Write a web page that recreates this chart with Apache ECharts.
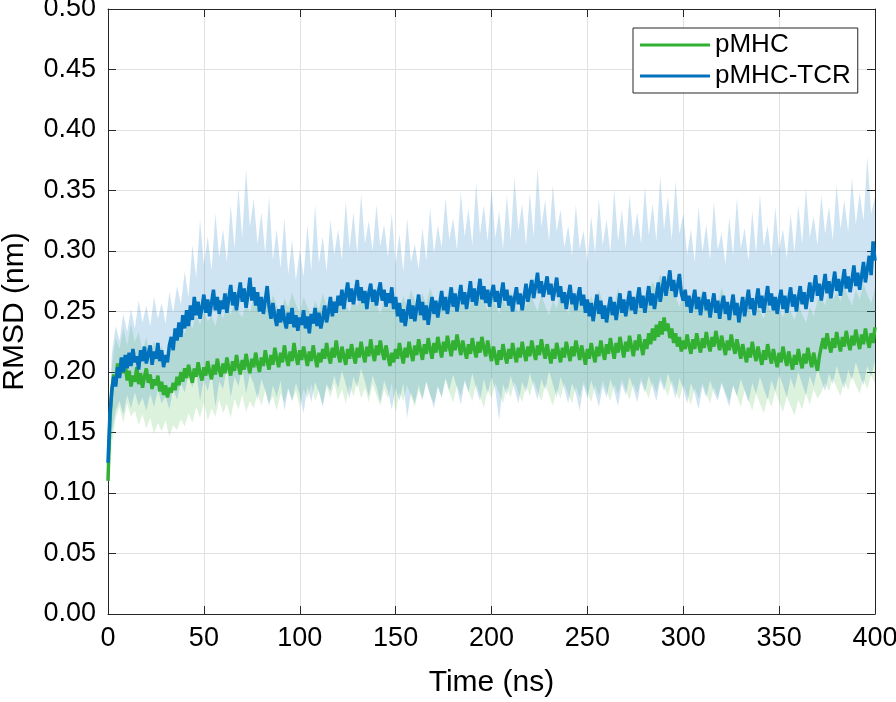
<!DOCTYPE html>
<html>
<head>
<meta charset="utf-8">
<script src="https://cdn.jsdelivr.net/npm/echarts@6/dist/echarts.min.js"></script>
<style>html,body{margin:0;padding:0;background:#fff}#c{width:896px;height:702px}</style>
</head>
<body>
<div id="c"></div>
<script>
// ---- data ----
const xTicks = [0, 50, 100, 150, 200, 250, 300, 350, 400];
const yTicks = [0, 0.05, 0.1, 0.15, 0.2, 0.25, 0.3, 0.35, 0.4, 0.45, 0.5];
const seriesNames = ['pMHC', 'pMHC-TCR'];
const meanTimes = Array.from({length: 401}, (_, i) => i);       // ns, 1 ns step
const bandTimes = Array.from({length: 201}, (_, i) => i * 2);   // ns, 2 ns step

const tcrMean = [
0.125,0.165,0.185,0.196,0.188,0.204,0.195,0.212,0.200,0.214,0.203,
0.216,0.205,0.219,0.208,0.213,0.202,0.218,0.209,0.221,0.207,
0.215,0.222,0.206,0.217,0.211,0.224,0.209,0.218,0.204,0.214,
0.208,0.222,0.229,0.218,0.236,0.226,0.241,0.229,0.247,0.236,
0.251,0.238,0.255,0.243,0.262,0.247,0.258,0.244,0.253,0.264,
0.249,0.260,0.246,0.257,0.268,0.251,0.262,0.248,0.259,0.252,
0.265,0.249,0.261,0.272,0.255,0.266,0.251,0.263,0.274,0.258,
0.269,0.253,0.264,0.278,0.259,0.270,0.255,0.266,0.250,0.262,
0.248,0.259,0.271,0.254,0.244,0.257,0.246,0.238,0.252,0.241,
0.255,0.243,0.236,0.249,0.240,0.253,0.237,0.247,0.234,0.245,
0.239,0.251,0.236,0.246,0.232,0.248,0.240,0.253,0.238,0.249,
0.236,0.244,0.255,0.241,0.250,0.262,0.246,0.258,0.249,0.263,
0.255,0.268,0.252,0.264,0.274,0.258,0.269,0.256,0.266,0.276,
0.259,0.270,0.257,0.267,0.252,0.265,0.273,0.258,0.268,0.255,
0.266,0.274,0.259,0.268,0.254,0.265,0.257,0.270,0.252,0.262,
0.246,0.257,0.241,0.252,0.238,0.249,0.260,0.244,0.255,0.242,
0.253,0.264,0.247,0.258,0.243,0.255,0.239,0.251,0.262,0.248,
0.259,0.245,0.256,0.267,0.251,0.262,0.248,0.258,0.270,0.254,
0.265,0.250,0.261,0.272,0.256,0.266,0.252,0.263,0.275,0.258,
0.269,0.255,0.266,0.277,0.260,0.271,0.257,0.268,0.254,0.265,
0.272,0.258,0.267,0.253,0.264,0.274,0.259,0.268,0.255,0.263,
0.250,0.261,0.270,0.256,0.265,0.251,0.262,0.273,0.258,0.267,
0.276,0.261,0.271,0.282,0.265,0.275,0.262,0.270,0.279,0.264,
0.273,0.259,0.268,0.278,0.262,0.271,0.257,0.266,0.252,0.263,
0.272,0.256,0.265,0.251,0.262,0.270,0.255,0.264,0.249,0.260,
0.246,0.257,0.242,0.253,0.264,0.248,0.259,0.244,0.255,0.241,
0.252,0.262,0.247,0.258,0.243,0.254,0.265,0.249,0.260,0.246,
0.257,0.267,0.251,0.262,0.248,0.259,0.270,0.253,0.263,0.249,
0.260,0.271,0.255,0.265,0.252,0.263,0.274,0.258,0.268,0.279,
0.263,0.273,0.284,0.267,0.276,0.262,0.271,0.281,0.265,0.259,
0.268,0.254,0.263,0.249,0.259,0.268,0.252,0.262,0.247,0.258,
0.266,0.251,0.260,0.245,0.256,0.265,0.249,0.259,0.244,0.255,
0.263,0.248,0.258,0.243,0.254,0.264,0.247,0.257,0.241,0.252,
0.262,0.246,0.257,0.268,0.252,0.261,0.247,0.258,0.269,0.253,
0.263,0.249,0.260,0.271,0.255,0.265,0.251,0.262,0.248,0.259,
0.268,0.252,0.263,0.249,0.260,0.270,0.254,0.264,0.250,0.261,
0.271,0.256,0.266,0.252,0.263,0.274,0.258,0.269,0.280,0.263,
0.273,0.259,0.270,0.281,0.265,0.275,0.261,0.272,0.283,0.267,
0.277,0.263,0.274,0.285,0.269,0.279,0.266,0.276,0.288,0.271,
0.282,0.268,0.279,0.291,0.274,0.285,0.296,0.280,0.308,0.292
];

const pmhcMean = [
0.110,0.160,0.185,0.198,0.190,0.207,0.196,0.211,0.199,0.206,0.193,
0.201,0.188,0.197,0.192,0.204,0.190,0.199,0.187,0.196,0.203,
0.191,0.198,0.186,0.194,0.189,0.197,0.184,0.192,0.181,0.189,
0.179,0.187,0.183,0.191,0.185,0.196,0.189,0.200,0.192,0.203,
0.195,0.206,0.198,0.191,0.203,0.196,0.208,0.199,0.193,0.204,
0.197,0.209,0.200,0.194,0.206,0.198,0.211,0.202,0.196,0.207,
0.199,0.212,0.203,0.197,0.209,0.201,0.214,0.205,0.198,0.210,
0.202,0.215,0.206,0.199,0.211,0.204,0.216,0.207,0.200,0.212,
0.205,0.218,0.209,0.202,0.214,0.206,0.220,0.211,0.204,0.216,
0.208,0.222,0.212,0.205,0.217,0.209,0.224,0.213,0.206,0.218,
0.210,0.221,0.213,0.205,0.217,0.209,0.222,0.212,0.204,0.216,
0.208,0.219,0.211,0.224,0.214,0.207,0.220,0.212,0.226,0.215,
0.208,0.221,0.213,0.206,0.219,0.211,0.223,0.214,0.207,0.220,
0.212,0.225,0.215,0.208,0.221,0.213,0.227,0.216,0.209,0.222,
0.214,0.226,0.217,0.210,0.222,0.213,0.205,0.216,0.208,0.219,
0.211,0.224,0.215,0.207,0.220,0.212,0.225,0.216,0.209,0.222,
0.214,0.227,0.218,0.210,0.223,0.215,0.228,0.219,0.211,0.224,
0.216,0.229,0.220,0.212,0.225,0.217,0.230,0.221,0.213,0.226,
0.218,0.231,0.222,0.214,0.226,0.218,0.211,0.223,0.215,0.228,
0.219,0.212,0.225,0.216,0.229,0.220,0.213,0.226,0.217,0.209,
0.221,0.213,0.206,0.218,0.210,0.223,0.214,0.207,0.219,0.211,
0.224,0.215,0.208,0.220,0.212,0.225,0.216,0.209,0.221,0.213,
0.226,0.217,0.210,0.222,0.214,0.227,0.218,0.211,0.223,0.215,
0.207,0.219,0.211,0.224,0.216,0.208,0.220,0.212,0.225,0.217,
0.209,0.221,0.213,0.226,0.218,0.210,0.222,0.214,0.206,0.219,
0.211,0.224,0.215,0.208,0.221,0.213,0.226,0.217,0.210,0.223,
0.215,0.228,0.219,0.211,0.224,0.216,0.229,0.220,0.212,0.225,
0.217,0.230,0.221,0.213,0.226,0.218,0.231,0.222,0.214,0.227,
0.219,0.232,0.223,0.236,0.226,0.239,0.229,0.242,0.231,0.245,
0.234,0.240,0.228,0.236,0.224,0.232,0.221,0.229,0.217,0.226,
0.219,0.231,0.222,0.215,0.227,0.219,0.232,0.223,0.216,0.228,
0.220,0.233,0.224,0.217,0.229,0.221,0.234,0.225,0.218,0.230,
0.222,0.214,0.226,0.218,0.231,0.222,0.215,0.227,0.219,0.211,
0.223,0.215,0.208,0.220,0.212,0.225,0.216,0.209,0.221,0.213,
0.206,0.218,0.210,0.223,0.214,0.207,0.219,0.211,0.204,0.216,
0.208,0.221,0.212,0.205,0.217,0.209,0.202,0.214,0.206,0.219,
0.210,0.203,0.215,0.207,0.220,0.211,0.204,0.216,0.208,0.201,
0.213,0.221,0.228,0.219,0.232,0.223,0.216,0.228,0.220,0.233,
0.224,0.217,0.229,0.221,0.234,0.225,0.218,0.230,0.222,0.235,
0.226,0.219,0.231,0.223,0.236,0.227,0.220,0.232,0.224,0.237
];

const tcrHi = [
0.130,0.215,0.238,0.226,0.248,0.233,0.252,0.236,0.259,0.241,
0.255,0.238,0.262,0.244,0.257,0.240,0.266,0.249,0.271,0.256,
0.283,0.262,0.305,0.278,0.326,0.289,0.312,0.284,0.331,0.295,
0.318,0.291,0.338,0.302,0.352,0.311,0.368,0.320,0.343,0.306,
0.332,0.298,0.345,0.293,0.318,0.286,0.327,0.281,0.309,0.276,
0.301,0.279,0.322,0.284,0.338,0.290,0.312,0.283,0.326,0.297,
0.318,0.293,0.341,0.302,0.332,0.298,0.347,0.306,0.325,0.300,
0.338,0.304,0.322,0.295,0.331,0.289,0.314,0.283,0.327,0.291,
0.306,0.285,0.319,0.292,0.336,0.298,0.321,0.303,0.344,0.309,
0.327,0.301,0.349,0.312,0.335,0.305,0.356,0.314,0.338,0.308,
0.352,0.311,0.333,0.302,0.346,0.309,0.361,0.317,0.339,0.305,
0.348,0.312,0.369,0.320,0.342,0.308,0.355,0.316,0.334,0.303,
0.321,0.296,0.338,0.302,0.317,0.291,0.329,0.298,0.343,0.305,
0.326,0.299,0.351,0.308,0.334,0.302,0.346,0.311,0.332,0.306,
0.353,0.313,0.339,0.308,0.362,0.318,0.345,0.309,0.358,0.314,
0.331,0.297,0.318,0.291,0.337,0.299,0.322,0.293,0.341,0.301,
0.315,0.289,0.328,0.296,0.344,0.302,0.319,0.292,0.333,0.298,
0.347,0.304,0.321,0.295,0.336,0.301,0.318,0.294,0.331,0.299,
0.338,0.306,0.352,0.311,0.329,0.305,0.346,0.314,0.337,0.309,
0.355,0.318,0.342,0.316,0.361,0.322,0.348,0.325,0.378,0.331,
0.345
];

const tcrLo = [
0.120,0.150,0.168,0.176,0.165,0.181,0.170,0.183,0.172,0.179,
0.168,0.182,0.171,0.185,0.174,0.180,0.169,0.186,0.177,0.191,
0.183,0.198,0.187,0.201,0.176,0.194,0.184,0.199,0.171,0.192,
0.186,0.203,0.179,0.196,0.188,0.204,0.182,0.198,0.190,0.177,
0.194,0.185,0.172,0.189,0.179,0.193,0.168,0.186,0.176,0.191,
0.181,0.166,0.188,0.175,0.192,0.183,0.171,0.190,0.184,0.197,
0.186,0.201,0.190,0.178,0.196,0.187,0.203,0.192,0.180,0.197,
0.188,0.175,0.193,0.184,0.169,0.187,0.176,0.191,0.162,0.183,
0.174,0.189,0.177,0.192,0.181,0.170,0.188,0.179,0.195,0.185,
0.198,0.187,0.173,0.192,0.183,0.199,0.186,0.176,0.194,0.182,
0.196,0.185,0.160,0.190,0.181,0.197,0.186,0.174,0.192,0.183,
0.199,0.188,0.177,0.194,0.185,0.201,0.190,0.179,0.196,0.186,
0.174,0.191,0.182,0.168,0.189,0.178,0.193,0.183,0.171,0.188,
0.179,0.194,0.184,0.172,0.190,0.181,0.196,0.186,0.175,0.192,
0.183,0.197,0.187,0.176,0.193,0.184,0.199,0.189,0.178,0.195,
0.186,0.174,0.191,0.182,0.169,0.188,0.179,0.193,0.183,0.176,
0.190,0.181,0.171,0.189,0.180,0.194,0.185,0.175,0.191,0.182,
0.196,0.186,0.177,0.193,0.184,0.198,0.189,0.179,0.195,0.186,
0.200,0.190,0.181,0.197,0.188,0.203,0.193,0.184,0.199,0.190,
0.205,0.195,0.186,0.202,0.193,0.208,0.198,0.189,0.205,0.196,
0.210
];

const pmhcHi = [
0.115,0.205,0.228,0.219,0.236,0.222,0.240,0.225,0.233,0.218,
0.229,0.214,0.226,0.211,0.222,0.208,0.219,0.226,0.231,0.238,
0.232,0.243,0.236,0.248,0.239,0.251,0.242,0.246,0.238,0.252,
0.244,0.256,0.247,0.259,0.250,0.245,0.257,0.249,0.262,0.253,
0.247,0.259,0.251,0.264,0.255,0.248,0.261,0.253,0.266,0.256,
0.249,0.262,0.254,0.246,0.259,0.251,0.265,0.255,0.248,0.261,
0.253,0.267,0.257,0.249,0.263,0.254,0.268,0.258,0.250,0.264,
0.256,0.248,0.261,0.252,0.266,0.257,0.249,0.263,0.254,0.268,
0.259,0.251,0.265,0.256,0.270,0.260,0.252,0.266,0.257,0.271,
0.262,0.254,0.267,0.258,0.250,0.264,0.255,0.269,0.259,0.251,
0.265,0.256,0.248,0.261,0.253,0.267,0.257,0.249,0.263,0.254,
0.268,0.258,0.250,0.264,0.255,0.247,0.260,0.252,0.266,0.256,
0.248,0.262,0.253,0.267,0.257,0.249,0.263,0.254,0.268,0.258,
0.250,0.264,0.255,0.269,0.259,0.251,0.265,0.256,0.270,0.260,
0.252,0.266,0.275,0.268,0.281,0.272,0.264,0.276,0.262,0.254,
0.267,0.258,0.250,0.264,0.255,0.269,0.259,0.251,0.265,0.256,
0.270,0.260,0.252,0.266,0.257,0.249,0.262,0.253,0.246,0.259,
0.251,0.244,0.257,0.249,0.262,0.253,0.245,0.258,0.250,0.243,
0.256,0.248,0.241,0.254,0.246,0.259,0.262,0.255,0.268,0.259,
0.266,0.258,0.271,0.262,0.255,0.268,0.260,0.273,0.264,0.257,
0.270
];

const pmhcLo = [
0.105,0.140,0.162,0.171,0.158,0.174,0.163,0.168,0.156,0.165,
0.153,0.162,0.149,0.158,0.151,0.160,0.147,0.156,0.152,0.161,
0.155,0.166,0.158,0.171,0.162,0.175,0.160,0.170,0.163,0.177,
0.166,0.174,0.162,0.178,0.169,0.181,0.167,0.176,0.170,0.183,
0.172,0.185,0.174,0.180,0.168,0.182,0.175,0.187,0.176,0.184,
0.171,0.186,0.178,0.190,0.176,0.185,0.173,0.188,0.179,0.191,
0.177,0.186,0.174,0.189,0.180,0.192,0.178,0.187,0.175,0.190,
0.181,0.172,0.186,0.178,0.191,0.167,0.183,0.176,0.189,0.180,
0.171,0.185,0.177,0.192,0.181,0.174,0.188,0.179,0.193,0.183,
0.175,0.189,0.180,0.194,0.184,0.176,0.190,0.181,0.170,0.186,
0.178,0.191,0.182,0.174,0.188,0.179,0.192,0.183,0.175,0.189,
0.180,0.193,0.184,0.176,0.190,0.181,0.172,0.186,0.178,0.191,
0.182,0.174,0.188,0.179,0.192,0.183,0.175,0.189,0.180,0.193,
0.184,0.176,0.190,0.181,0.194,0.185,0.177,0.191,0.182,0.195,
0.186,0.178,0.192,0.183,0.196,0.188,0.180,0.193,0.185,0.177,
0.190,0.181,0.173,0.187,0.178,0.191,0.182,0.174,0.188,0.179,
0.192,0.183,0.175,0.189,0.180,0.171,0.185,0.177,0.168,0.182,
0.174,0.166,0.179,0.171,0.184,0.175,0.167,0.180,0.172,0.164,
0.177,0.169,0.182,0.173,0.186,0.178,0.183,0.191,0.184,0.195,
0.187,0.180,0.193,0.185,0.197,0.189,0.182,0.194,0.186,0.198,
0.190
];

// ---- chart ----
const GREEN = '#31b031';
const BLUE = '#0072bd';
const FONT = "'Liberation Sans', Arial, Helvetica, sans-serif";
const AXIS_COLOR = '#262626';

function bandSeries(name, lo, hi, fill) {
  return {
    name: name,
    type: 'custom',
    xAxisIndex: 0, yAxisIndex: 0,
    silent: true,
    z: 1,
    data: bandTimes.map((t, i) => [t, lo[i], hi[i]]),
    encode: {x: 0, y: [1, 2]},
    renderItem: function (params, api) {
      if (params.dataIndex !== 0) return null;
      const pts = [];
      for (let i = 0; i < bandTimes.length; i++) pts.push(api.coord([bandTimes[i], hi[i]]));
      for (let i = bandTimes.length - 1; i >= 0; i--) pts.push(api.coord([bandTimes[i], lo[i]]));
      return {type: 'polygon', shape: {points: pts}, style: {fill: fill, stroke: null}};
    }
  };
}

function lineSeries(name, values, color, z) {
  return {
    name: name,
    type: 'line',
    xAxisIndex: 0, yAxisIndex: 0,
    showSymbol: false,
    symbol: 'none',
    z: z,
    lineStyle: {color: color, width: 3.5},
    itemStyle: {color: color},
    data: meanTimes.map((t, i) => [t, values[i]])
  };
}

const baseAxis = {
  axisLine: {show: true, onZero: false, lineStyle: {color: AXIS_COLOR, width: 1}},
  axisTick: {show: true, inside: true, length: 8, lineStyle: {color: AXIS_COLOR, width: 1}},
  splitLine: {show: false}
};

const chart = echarts.init(document.getElementById('c'), null, {renderer: 'canvas'});
chart.setOption({
  animation: false,
  backgroundColor: '#ffffff',
  textStyle: {fontFamily: FONT},
  grid: {left: 108, right: 21, top: 9, bottom: 88, containLabel: false, outerBoundsMode: 'none'},
  legend: {
    data: seriesNames,
    orient: 'vertical',
    left: 633, top: 28,
    padding: [4, 7, 4, 7],
    itemGap: 5,
    itemWidth: 70, itemHeight: 3,
    icon: 'rect',
    backgroundColor: '#ffffff',
    borderColor: AXIS_COLOR, borderWidth: 1,
    textStyle: {fontSize: 26, color: '#000', fontFamily: FONT},
    selectedMode: false
  },
  xAxis: [
    Object.assign({}, baseAxis, {
      type: 'value', position: 'bottom', min: xTicks[0], max: xTicks[xTicks.length - 1], interval: 50,
      name: 'Time (ns)', nameLocation: 'middle', nameGap: 54,
      nameTextStyle: {fontSize: 30, color: '#000', fontFamily: FONT},
      axisLabel: {fontSize: 27, color: '#000', margin: 11, fontFamily: FONT},
      splitLine: {show: true, lineStyle: {color: '#e2e2e2', width: 1}}
    }),
    Object.assign({}, baseAxis, {
      type: 'value', position: 'top', min: xTicks[0], max: xTicks[xTicks.length - 1], interval: 50,
      axisLabel: {show: false}
    })
  ],
  yAxis: [
    Object.assign({}, baseAxis, {
      type: 'value', position: 'left', min: yTicks[0], max: yTicks[yTicks.length - 1], interval: 0.05,
      name: 'RMSD (nm)', nameLocation: 'middle', nameGap: 78,
      nameTextStyle: {fontSize: 30, color: '#000', fontFamily: FONT},
      axisLabel: {fontSize: 27, color: '#000', margin: 12, fontFamily: FONT, formatter: v => v.toFixed(2)},
      splitLine: {show: true, lineStyle: {color: '#e2e2e2', width: 1}}
    }),
    Object.assign({}, baseAxis, {
      type: 'value', position: 'right', min: yTicks[0], max: yTicks[yTicks.length - 1], interval: 0.05,
      axisLabel: {show: false}
    })
  ],
  series: [
    bandSeries('pMHC band', pmhcLo, pmhcHi, 'rgba(49,176,49,0.17)'),
    bandSeries('pMHC-TCR band', tcrLo, tcrHi, 'rgba(0,114,189,0.19)'),
    lineSeries(seriesNames[0], pmhcMean, GREEN, 3),
    lineSeries(seriesNames[1], tcrMean, BLUE, 4)
  ]
});
</script>
</body>
</html>
